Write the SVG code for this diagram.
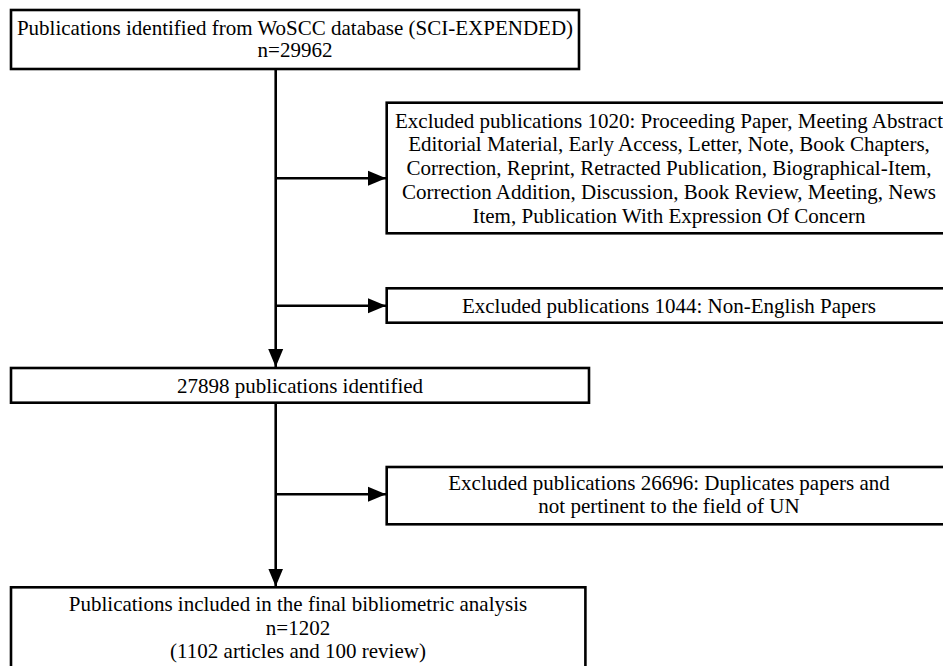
<svg xmlns="http://www.w3.org/2000/svg" width="943" height="666" viewBox="0 0 943 666">
<style>
.box{fill:#fff;stroke:#000;stroke-width:2.6}
.t{font-family:"Liberation Serif","Times New Roman",Times,serif;font-size:21px;fill:#000;text-anchor:middle}
.c{fill:none;stroke:#000;stroke-width:2.6}
</style>
<defs>
<marker id="ah" markerUnits="userSpaceOnUse" markerWidth="18" markerHeight="16" refX="18" refY="8" orient="auto">
<path d="M0,0.5 L18,8 L0,15.5 Z" fill="#000"/>
</marker>
</defs>
<g id="connectors">
<line class="c" x1="275.7" y1="69" x2="275.7" y2="367" marker-end="url(#ah)"/>
<line class="c" x1="275.7" y1="178.3" x2="386" y2="178.3" marker-end="url(#ah)"/>
<line class="c" x1="275.7" y1="305.7" x2="386" y2="305.7" marker-end="url(#ah)"/>
<line class="c" x1="275.7" y1="403" x2="275.7" y2="586.5" marker-end="url(#ah)"/>
<line class="c" x1="275.7" y1="494.3" x2="386" y2="494.3" marker-end="url(#ah)"/>
</g>
<g id="n1">
<rect class="box" x="11" y="10" width="568" height="59"/>
<text class="t" x="295" y="34.5">Publications identified from WoSCC database (SCI-EXPENDED)</text>
<text class="t" x="295" y="57">n=29962</text>
</g>
<g id="n2">
<rect class="box" x="386.7" y="102.7" width="570" height="130.6"/>
<text class="t" x="669" y="127.5">Excluded publications 1020: Proceeding Paper, Meeting Abstract</text>
<text class="t" x="669" y="151.3">Editorial Material, Early Access, Letter, Note, Book Chapters,</text>
<text class="t" x="669" y="175.1">Correction, Reprint, Retracted Publication, Biographical-Item,</text>
<text class="t" x="669" y="198.9">Correction Addition, Discussion, Book Review, Meeting, News</text>
<text class="t" x="669" y="222.7">Item, Publication With Expression Of Concern</text>
</g>
<g id="n3">
<rect class="box" x="386.7" y="288.3" width="570" height="34.4"/>
<text class="t" x="669" y="312.5">Excluded publications 1044: Non-English Papers</text>
</g>
<g id="n4">
<rect class="box" x="11" y="368" width="578" height="34.7"/>
<text class="t" x="300" y="392.5">27898 publications identified</text>
</g>
<g id="n5">
<rect class="box" x="386.7" y="467" width="570" height="57.3"/>
<text class="t" x="669" y="489.5">Excluded publications 26696: Duplicates papers and</text>
<text class="t" x="669" y="513">not pertinent to the field of UN</text>
</g>
<g id="n6">
<rect class="box" x="11" y="587.3" width="574.4" height="100"/>
<text class="t" x="298" y="611">Publications included in the final bibliometric analysis</text>
<text class="t" x="298" y="634.5">n=1202</text>
<text class="t" x="298" y="658">(1102 articles and 100 review)</text>
</g>
</svg>
